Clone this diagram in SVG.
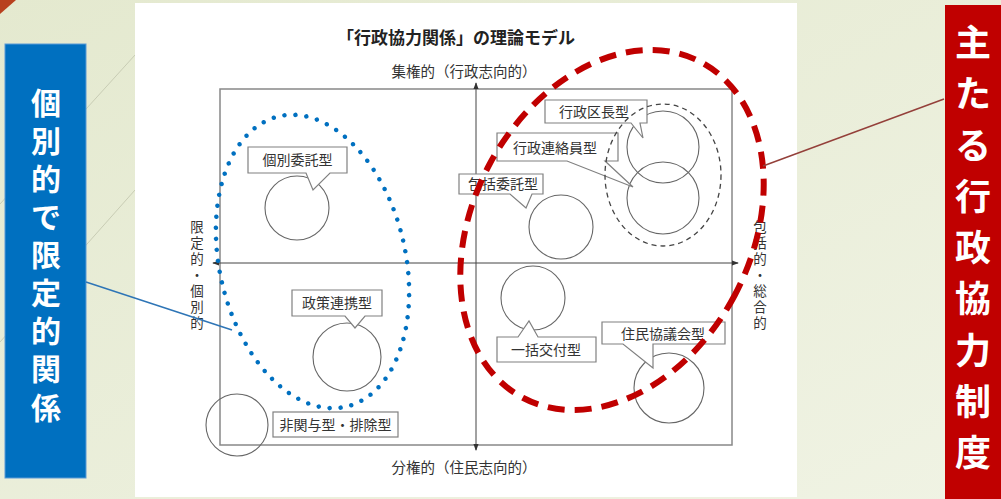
<svg xmlns="http://www.w3.org/2000/svg" width="1001" height="499" viewBox="0 0 1001 499">
<defs>
<linearGradient id="bg" x1="0" y1="0" x2="1" y2="1">
<stop offset="0" stop-color="#e4e9cf"/>
<stop offset="1" stop-color="#f0f3e4"/>
</linearGradient>
<marker id="ah" viewBox="0 0 8 8" refX="7" refY="4" markerWidth="7" markerHeight="7" markerUnits="userSpaceOnUse" orient="auto-start-reverse">
<path d="M0,1 L8,4 L0,7 Z" fill="#333"/>
</marker>
<style>
.jp{font-family:"Noto Sans CJK JP","Noto Sans CJK SC",sans-serif;}
.lbl{font-size:14px;fill:#333;text-anchor:middle;}
.ax{font-size:14.5px;fill:#333;text-anchor:middle;}
.vt{font-size:13.5px;fill:#333;text-anchor:middle;}
.call{fill:#fff;stroke:#808080;stroke-width:1.2;}
.circ{fill:none;stroke:#666;stroke-width:1.1;}
.side{font-size:30px;font-weight:bold;fill:#fff;text-anchor:middle;}
</style>
</defs>

<!-- background -->
<rect x="0" y="0" width="1001" height="499" fill="url(#bg)"/>
<path d="M0,0 L16,0 L0,14 Z" fill="#b8401e"/>
<line x1="0" y1="204" x2="135" y2="55" stroke="#c8ccb4" stroke-width="1"/>
<line x1="0" y1="342" x2="135" y2="190" stroke="#c8ccb4" stroke-width="1"/>
<rect x="135" y="3" width="662" height="494" fill="#fff"/>

<!-- side panels -->
<g id="left-panel">
<rect x="5" y="44" width="81" height="434" fill="#0070c0" stroke="#5a9ad6" stroke-width="1"/>
<text class="jp side" x="46 46 46 46 46 46 46 46 46" y="114 152 190 228 266 304 342 380 419">個別的で限定的関係</text>
</g>
<g id="right-panel">
<rect x="945" y="5" width="60" height="500" fill="#c00000"/>
<text class="jp side" style="font-size:36px" x="973 973 973 973 973 973 973 973 973" y="56 107 159 210 261 312 364 415 466">主たる行政協力制度</text>
</g>

<!-- title -->
<text class="jp" x="456" y="44" font-size="17" font-weight="bold" fill="#222" text-anchor="middle">「行政協力関係」の理論モデル</text>

<!-- frame and axes -->
<g id="axes">
<rect x="220" y="89" width="512" height="356" fill="none" stroke="#888" stroke-width="1.5"/>
<line x1="476" y1="450" x2="476" y2="83" stroke="#444" stroke-width="1" marker-end="url(#ah)" marker-start="url(#ah)"/>
<line x1="213" y1="263" x2="738" y2="263" stroke="#444" stroke-width="1" marker-end="url(#ah)" marker-start="url(#ah)"/>
<text class="jp ax" x="464" y="77">集権的（行政志向的）</text>
<text class="jp ax" x="464" y="473">分権的（住民志向的）</text>
<text class="jp vt" x="197 197 197 197 197 197 197" y="232 248 264 280 296 312 328">限定的・個別的</text>
<text class="jp vt" x="760 760 760 760 760 760 760" y="232 248 264 280 296 312 328">包括的・総合的</text>
</g>

<!-- circles -->
<g id="circles">
<circle class="circ" cx="297" cy="208" r="32"/>
<circle class="circ" cx="347" cy="357" r="34"/>
<circle class="circ" cx="237" cy="425" r="31"/>
<circle class="circ" cx="561" cy="227" r="32"/>
<circle class="circ" cx="663" cy="147" r="36"/>
<circle class="circ" cx="663" cy="198" r="36"/>
<circle class="circ" cx="533" cy="298" r="32"/>
<circle class="circ" cx="669" cy="388" r="35"/>
</g>

<!-- callouts -->
<g id="n-kobetsu">
<path class="call" d="M248,147 H347 V173 H330 L313,190 L306,173 H248 Z"/>
<text class="jp lbl" x="297.5" y="165">個別委託型</text>
</g>
<g id="n-seisaku">
<path class="call" d="M292,290 H382 V316 H365 L355,328 L345,316 H292 Z"/>
<text class="jp lbl" x="337" y="308">政策連携型</text>
</g>
<g id="n-hikanyo">
<rect class="call" x="273" y="412" width="125" height="25"/>
<text class="jp lbl" x="335.5" y="430">非関与型・排除型</text>
</g>
<g id="n-hokatsu">
<path class="call" d="M459,174 H543 V194 H532 L526,208 L510,194 H459 Z"/>
<text class="jp lbl" x="503" y="189">包括委託型</text>
</g>
<g id="n-kucho">
<path class="call" d="M545,100 H647 V123 H640 L643,138 L631,123 H545 Z"/>
<text class="jp lbl" x="594" y="117">行政区長型</text>
</g>
<g id="n-renraku">
<path class="call" d="M497,133 H618 V161 H605 L633,187 L567,161 H497 Z"/>
<text class="jp lbl" x="555" y="153">行政連絡員型</text>
</g>
<g id="n-ikkatsu">
<path class="call" d="M497,337 H518 L529,321 L538,337 H596 V362 H497 Z"/>
<text class="jp lbl" x="546" y="355">一括交付型</text>
</g>
<g id="n-jumin">
<path class="call" d="M602,322 H725 V344 H653 L653,368 L623,344 H602 Z"/>
<text class="jp lbl" x="663" y="339">住民協議会型</text>
</g>

<!-- groupings and connectors -->
<g id="connectors">
<ellipse cx="663" cy="175" rx="58" ry="71" fill="none" stroke="#444" stroke-width="1.3" stroke-dasharray="5 4"/>
<ellipse cx="312.5" cy="261.5" rx="93" ry="149" transform="rotate(-13 312.5 261.5)" fill="none" stroke="#0070c0" stroke-width="4.5" stroke-linecap="round" stroke-dasharray="0 11"/>
<ellipse cx="612" cy="230" rx="139" ry="190" transform="rotate(28 612 230)" fill="none" stroke="#c00000" stroke-width="6" stroke-dasharray="17 10"/>
<line x1="86" y1="282" x2="232" y2="330" stroke="#2e75b6" stroke-width="1.5"/>
<line x1="944" y1="99" x2="763" y2="166" stroke="#94403a" stroke-width="1.5"/>
</g>
</svg>
